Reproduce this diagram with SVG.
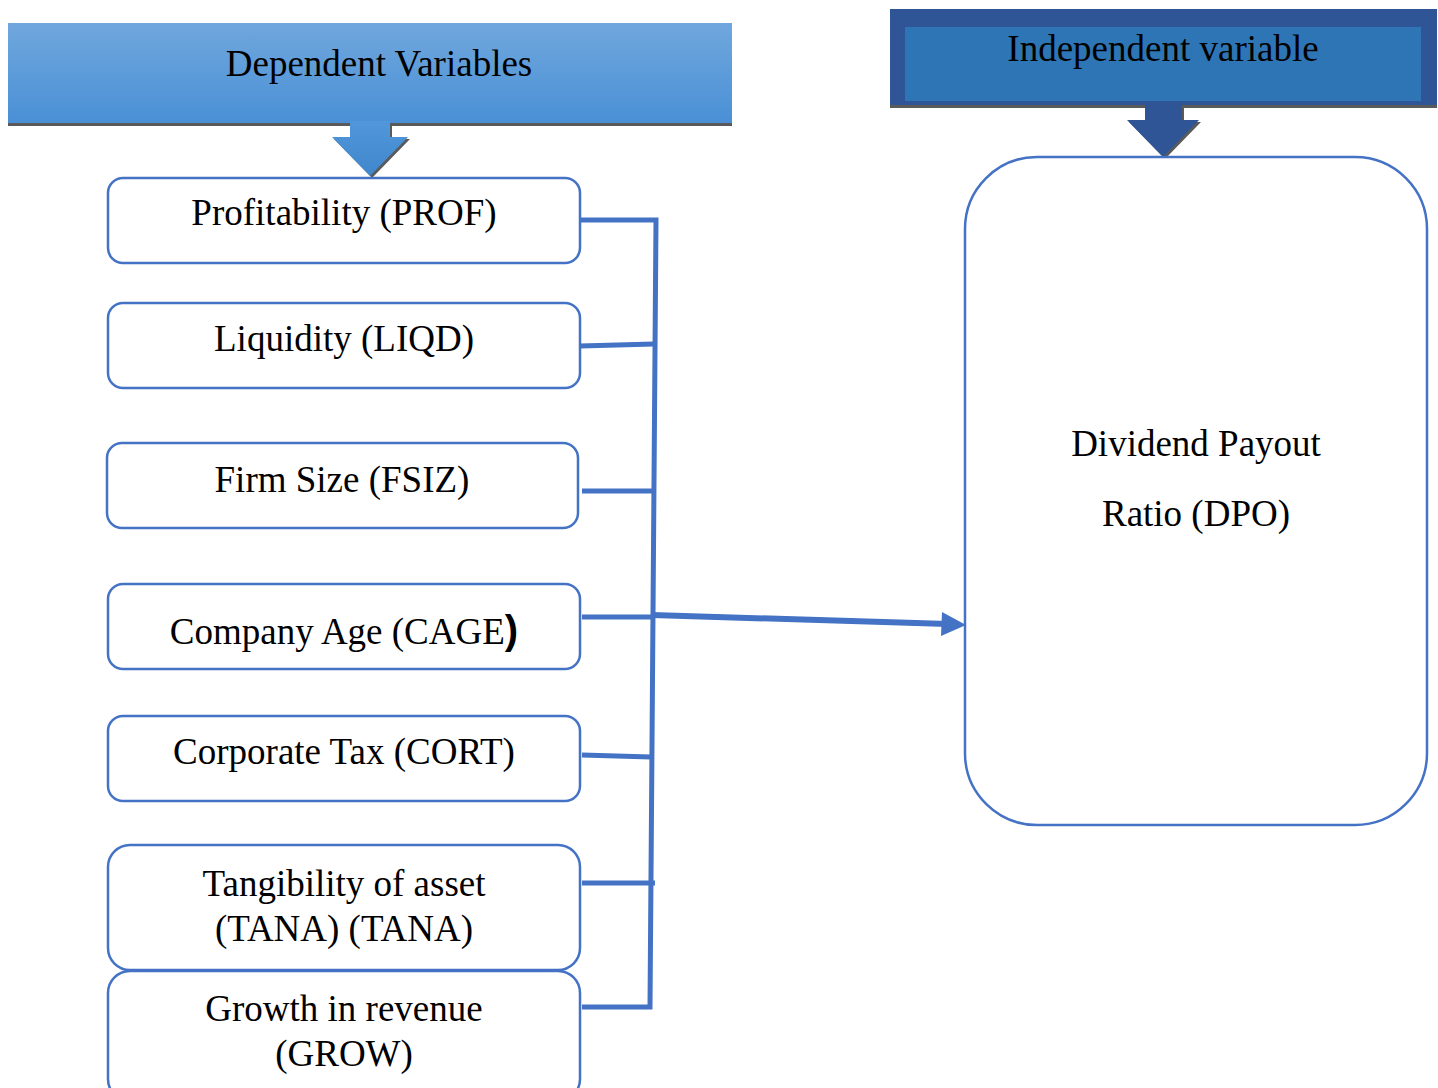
<svg xmlns="http://www.w3.org/2000/svg" width="1438" height="1088" viewBox="0 0 1438 1088">
<defs>
<linearGradient id="hdr" x1="0" y1="0" x2="0" y2="1">
<stop offset="0" stop-color="#70a7dd"/>
<stop offset="1" stop-color="#4a90d6"/>
</linearGradient>
<linearGradient id="arr1" x1="0" y1="0" x2="0" y2="1">
<stop offset="0" stop-color="#5197da"/>
<stop offset="1" stop-color="#3f86cc"/>
</linearGradient>
<marker id="ah" markerWidth="8" markerHeight="8" refX="7" refY="4" orient="auto" markerUnits="strokeWidth" viewBox="0 0 8 8">
<path d="M0,0 L8,4 L0,8 Z" fill="#4472c4"/>
</marker>
</defs>
<style>
text{font-family:"Liberation Serif","Times New Roman",serif;font-size:37px;fill:#000;text-anchor:middle}
.box{fill:#fff;stroke:#4472c4;stroke-width:2.5}
.con{fill:none;stroke:#4472c4;stroke-width:5}
</style>
<rect width="1438" height="1088" fill="#fff"/>
<g id="dep-header">
<rect x="8" y="122" width="724" height="4" fill="#5a5a5a"/>
<rect x="8" y="23" width="724" height="100" fill="url(#hdr)"/>
<text x="379" y="76">Dependent Variables</text>
<path d="M352,123 H392 V139 H410 L372,178 L334,139 H352 Z" fill="#5a5a5a"/>
<path d="M350,121 H390 V137 H408 L370,176 L332,137 H350 Z" fill="url(#arr1)"/>
</g>
<g id="ind-header">
<rect x="890" y="104" width="547" height="4" fill="#5a5a5a"/>
<rect x="890" y="9" width="547" height="96" fill="#2f5597"/>
<rect x="905" y="27" width="516" height="74" fill="#2e75b6"/>
<text x="1163" y="61">Independent variable</text>
<path d="M1147,106 H1184 V122 H1201 L1165,159 L1129,122 H1147 Z" fill="#5a5a5a"/>
<path d="M1145,104 H1182 V120 H1199 L1163,157 L1127,120 H1145 Z" fill="#2f5597"/>
</g>
<g id="dpo">
<rect class="box" x="965" y="157" width="462" height="668" rx="72"/>
<text x="1196" y="456">Dividend Payout</text>
<text x="1196" y="526">Ratio (DPO)</text>
</g>
<g id="connectors">
<path class="con" d="M580,220 H656 L650,1007 H582"/>
<path class="con" d="M580,346 L654,344"/>
<path class="con" d="M582,491 H652"/>
<path class="con" d="M582,617 H652"/>
<path class="con" d="M582,755 L651,757"/>
<path class="con" d="M582,883 H655"/>
<path d="M652,615 L948,624" fill="none" stroke="#4472c4" stroke-width="6"/>
<path d="M942,612 L966,625 L941,636 Z" fill="#4472c4"/>
</g>
<g id="prof">
<rect class="box" x="108" y="178" width="472" height="85" rx="15"/>
<text x="344" y="225">Profitability (PROF)</text>
</g>
<g id="liqd">
<rect class="box" x="108" y="303" width="472" height="85" rx="15"/>
<text x="344" y="351">Liquidity (LIQD)</text>
</g>
<g id="fsiz">
<rect class="box" x="107" y="443" width="471" height="85" rx="15"/>
<text x="342" y="492">Firm Size (FSIZ)</text>
</g>
<g id="cage">
<rect class="box" x="108" y="584" width="472" height="85" rx="15"/>
<text x="344" y="644">Company Age (CAGE<tspan font-family="'Liberation Sans',Arial,sans-serif" font-weight="bold" font-size="40">)</tspan></text>
</g>
<g id="cort">
<rect class="box" x="108" y="716" width="472" height="85" rx="15"/>
<text x="344" y="764">Corporate Tax (CORT)</text>
</g>
<g id="tana">
<rect class="box" x="108" y="845" width="472" height="125" rx="22"/>
<text x="344" y="896">Tangibility of asset</text>
<text x="344" y="941">(TANA) (TANA)</text>
</g>
<g id="grow">
<rect class="box" x="108" y="971" width="472" height="130" rx="22"/>
<text x="344" y="1021">Growth in revenue</text>
<text x="344" y="1066">(GROW)</text>
</g>
</svg>
